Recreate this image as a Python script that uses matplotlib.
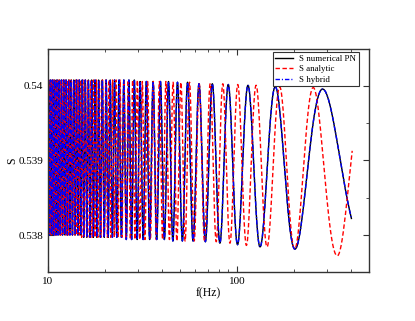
import numpy as np
import matplotlib
matplotlib.use('Agg')
import matplotlib.pyplot as plt
from matplotlib.ticker import FormatStrFormatter, MultipleLocator, LogLocator

plt.rcParams['font.family'] = ['Liberation Serif', 'DejaVu Serif']

# extrema of S numerical PN (alternating min / max), frequencies in Hz
num_f = [9.96, 10.08, 10.20, 10.33, 10.46, 10.59, 10.72, 10.86, 11.00, 11.15,
         11.30, 11.45, 11.61, 11.77, 11.94, 12.11, 12.29, 12.47, 12.66, 12.86,
         13.06, 13.26, 13.47, 13.69, 13.92, 14.16, 14.40, 14.65, 14.91, 15.18,
         15.46, 15.75, 16.05, 16.36, 16.69, 17.02, 17.38, 17.74, 18.13, 18.53,
         18.94, 19.38, 19.84, 20.32, 20.82, 21.35, 21.91, 22.50, 23.12, 23.77,
         24.46, 25.19, 25.97, 26.80, 27.69, 28.63, 29.64, 30.72, 31.89, 33.15,
         34.51, 35.99, 37.60, 39.36, 41.30, 43.43, 45.80, 48.44, 51.41, 54.76,
         58.58, 62.97, 68.07, 74.07, 81.24, 89.94, 100.7, 114.4, 132.5, 159.5,
         202.7, 284.0, 488.0]
num_s = [0.53800, 0.54008, 0.53800, 0.54008, 0.53800, 0.54008, 0.53800, 0.54008, 0.53800, 0.54008,
         0.53800, 0.54008, 0.53800, 0.54008, 0.53800, 0.54008, 0.53800, 0.54008, 0.53800, 0.54008,
         0.53800, 0.54008, 0.53800, 0.54008, 0.53800, 0.54008, 0.53800, 0.54008, 0.53800, 0.54008,
         0.53797, 0.54008, 0.53797, 0.54008, 0.53797, 0.54008, 0.53797, 0.54008, 0.53797, 0.54008,
         0.53797, 0.54008, 0.53797, 0.54008, 0.53797, 0.54008, 0.53797, 0.54008, 0.53797, 0.54008,
         0.53797, 0.54008, 0.53794, 0.54008, 0.53794, 0.54008, 0.53794, 0.54006, 0.53794, 0.54006,
         0.53794, 0.54006, 0.53794, 0.54006, 0.53794, 0.54006, 0.53792, 0.54005, 0.53792, 0.54005,
         0.53792, 0.54003, 0.53791, 0.54003, 0.53789, 0.54002, 0.53787, 0.54001, 0.53784, 0.53999,
         0.53781, 0.53996, 0.53780]

# extrema of S analytic
ana_f = [10.00, 10.10, 10.20, 10.31, 10.41, 10.52, 10.63, 10.74, 10.86, 10.98,
         11.10, 11.22, 11.35, 11.48, 11.61, 11.74, 11.88, 12.02, 12.17, 12.32,
         12.47, 12.63, 12.78, 12.95, 13.12, 13.29, 13.47, 13.65, 13.84, 14.03,
         14.23, 14.43, 14.64, 14.85, 15.07, 15.30, 15.54, 15.78, 16.03, 16.29,
         16.56, 16.83, 17.12, 17.41, 17.72, 18.04, 18.36, 18.70, 19.06, 19.42,
         19.80, 20.20, 20.61, 21.04, 21.49, 21.96, 22.44, 22.95, 23.49, 24.05,
         24.63, 25.25, 25.90, 26.58, 27.30, 28.06, 28.86, 29.71, 30.61, 31.56,
         32.58, 33.67, 34.83, 36.07, 37.41, 38.85, 40.40, 42.08, 43.91, 45.91,
         48.10, 50.50, 53.16, 56.11, 59.41, 63.13, 67.33, 72.14, 77.69, 84.17,
         91.82, 101.0, 112.2, 126.3, 144.3, 168.3, 202.0, 253.4, 339.6, 475.0]
ana_s = [0.53800, 0.54008, 0.53800, 0.54008, 0.53800, 0.54008, 0.53800, 0.54008, 0.53800, 0.54008,
         0.53800, 0.54008, 0.53800, 0.54008, 0.53800, 0.54008, 0.53800, 0.54008, 0.53800, 0.54008,
         0.53800, 0.54008, 0.53800, 0.54008, 0.53800, 0.54008, 0.53800, 0.54008, 0.53800, 0.54008,
         0.53800, 0.54008, 0.53800, 0.54008, 0.53797, 0.54008, 0.53797, 0.54008, 0.53797, 0.54008,
         0.53797, 0.54008, 0.53797, 0.54008, 0.53797, 0.54008, 0.53797, 0.54008, 0.53797, 0.54008,
         0.53797, 0.54008, 0.53797, 0.54008, 0.53797, 0.54008, 0.53797, 0.54008, 0.53797, 0.54008,
         0.53797, 0.54008, 0.53794, 0.54008, 0.53794, 0.54008, 0.53794, 0.54008, 0.53794, 0.54006,
         0.53794, 0.54006, 0.53794, 0.54006, 0.53794, 0.54006, 0.53794, 0.54006, 0.53794, 0.54005,
         0.53792, 0.54005, 0.53792, 0.54005, 0.53792, 0.54003, 0.53791, 0.54003, 0.53791, 0.54003,
         0.53789, 0.54002, 0.53786, 0.54001, 0.53784, 0.53999, 0.53781, 0.53998, 0.53772, 0.53996]

# S hybrid follows the numerical PN curve
hyb_f = num_f
hyb_s = num_s

F_START = 10.0
F_END = 411.0


def smooth(fe, se, n=24):
    # half-cosine arc between neighbouring extrema, phase taken linear in 1/f
    xs, ys = [], []
    for i in range(len(fe) - 1):
        t = np.linspace(0, 1, n, endpoint=False)
        u = 1 / fe[i] + t * (1 / fe[i + 1] - 1 / fe[i])
        xs.append(1 / u)
        ys.append(se[i] + (se[i + 1] - se[i]) * (1 - np.cos(np.pi * t)) / 2)
    x = np.concatenate(xs)
    y = np.concatenate(ys)
    keep = (x >= F_START) & (x <= F_END)
    return x[keep], y[keep]


fig = plt.figure(figsize=(4.15, 3.21), dpi=100)
ax = fig.add_axes([0.1157, 0.1517, 0.7735, 0.6966])

x, y = smooth(num_f, num_s)
ax.plot(x, y, color='k', lw=1.0, label='S numerical PN')
x, y = smooth(ana_f, ana_s)
ax.plot(x, y, color='r', lw=1.0, dashes=(3.2, 1.8), label='S analytic')
x, y = smooth(hyb_f, hyb_s)
ax.plot(x, y, color='b', lw=1.0, dashes=(3.2, 1.4, 0.8, 1.4), label='S hybrid')

ax.set_xscale('log')
ax.set_xlim(10, 500)
ax.set_ylim(0.5375, 0.5405)
ax.yaxis.set_major_locator(MultipleLocator(0.001))
ax.yaxis.set_minor_locator(MultipleLocator(0.0005))
ax.yaxis.set_major_formatter(FormatStrFormatter('%g'))
ax.xaxis.set_major_locator(LogLocator(base=10))
ax.xaxis.set_minor_locator(LogLocator(base=10, subs=np.arange(2, 10)))
ax.xaxis.set_major_formatter(FormatStrFormatter('%g'))
ax.xaxis.set_minor_formatter(plt.NullFormatter())

ax.tick_params(which='both', direction='in', top=True, right=True, labelsize=8, color='#333333')
ax.tick_params(which='major', length=4.5, width=0.8)
ax.tick_params(which='minor', length=2.5, width=0.6)
for sp in ax.spines.values():
    sp.set_color('#333333')
    sp.set_linewidth(1.0)

ax.set_xlabel('f(Hz)', fontsize=8.5, labelpad=1)
ax.set_ylabel('S', fontsize=8.5, labelpad=0)

leg = ax.legend(loc='upper right', bbox_to_anchor=(0.969, 0.985), borderaxespad=0,
                fontsize=6.4, fancybox=False, framealpha=1, edgecolor='#333333',
                handlelength=2.0, labelspacing=0.25, borderpad=0.3, handletextpad=0.7)
leg.get_frame().set_linewidth(0.8)

fig.savefig('out.png', dpi=100)
